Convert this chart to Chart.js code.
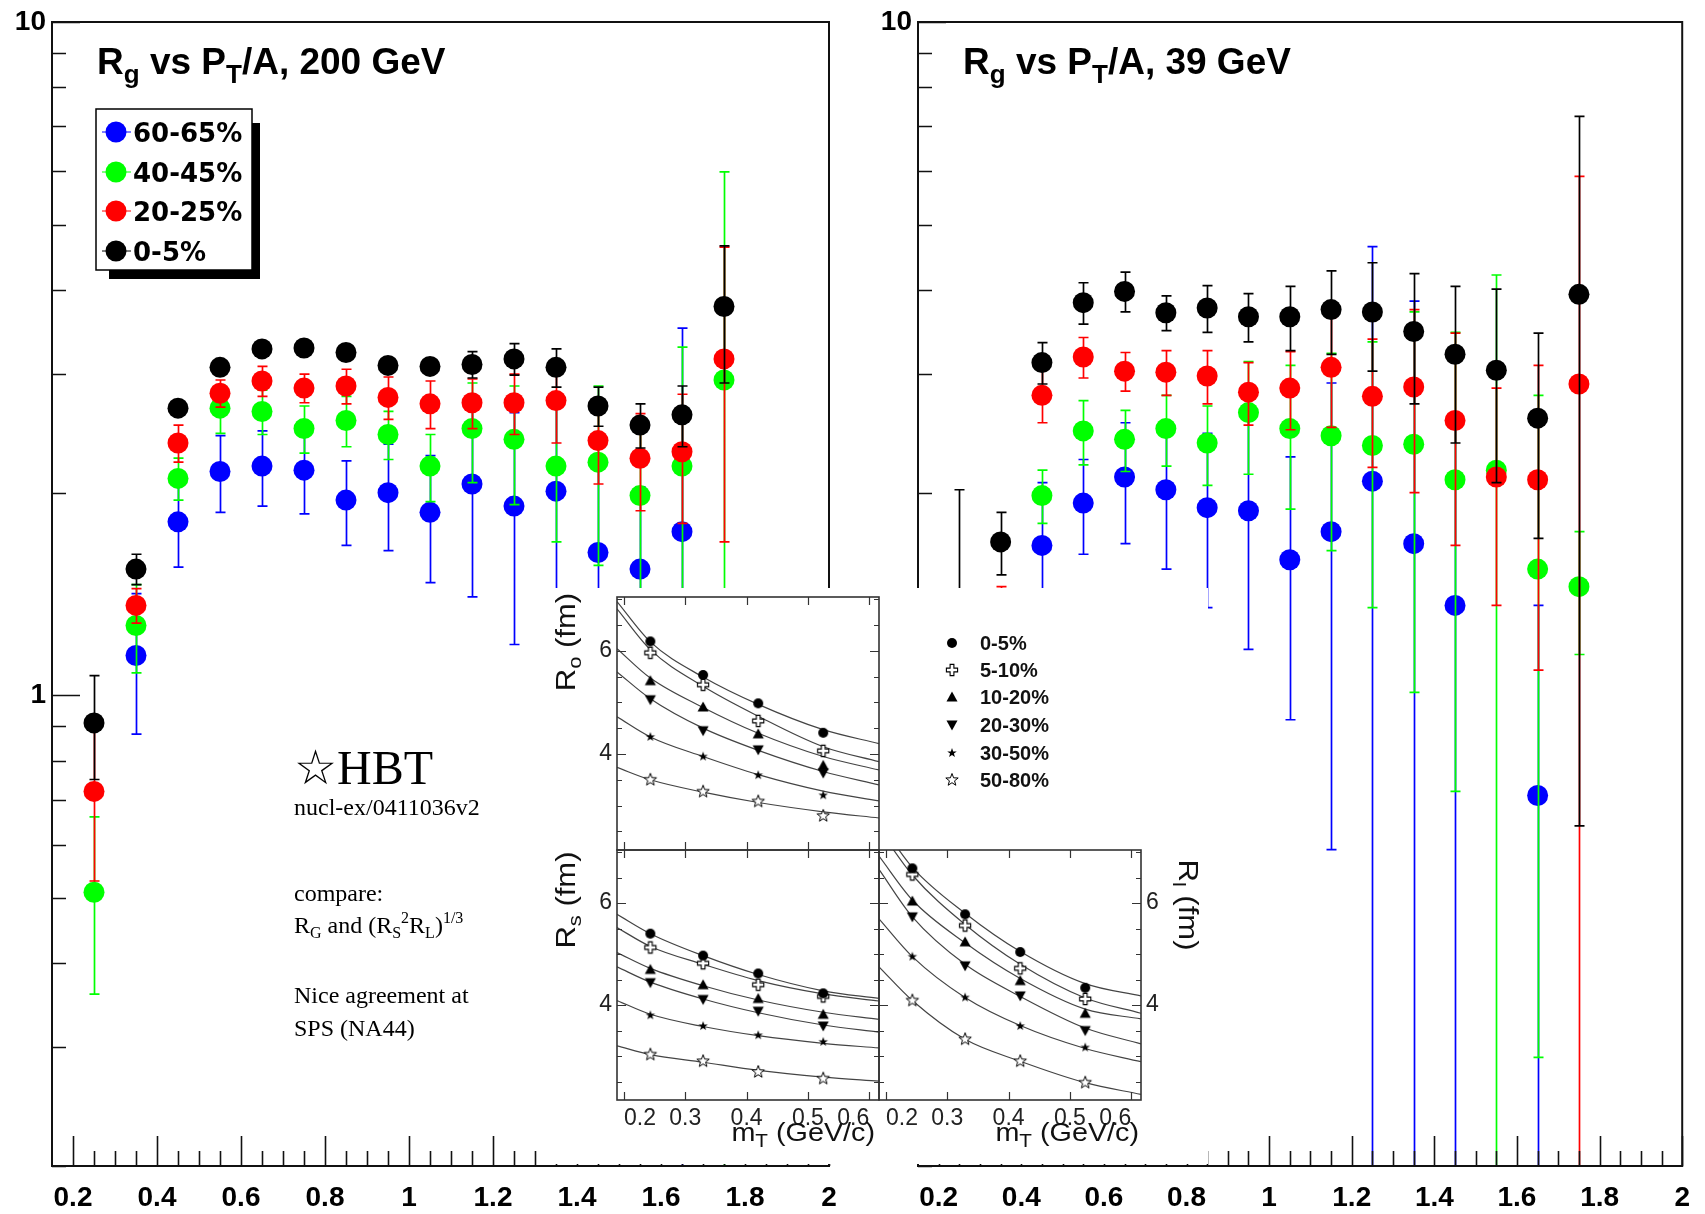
<!DOCTYPE html>
<html>
<head>
<meta charset="utf-8">
<title>Rg vs PT/A</title>
<script src="https://cdn.jsdelivr.net/npm/chart.js@4.4.1/dist/chart.umd.min.js"></script>
<style>
  body { margin: 0; background: #fff; }
  #page { position: relative; width: 1705px; height: 1214px; overflow: hidden; background: #fff; }
  #page canvas { position: absolute; top: 0; }
  #inset { position: absolute; left: 543px; top: 588px; width: 665px; height: 576px; background: #fff; }
</style>
</head>
<body>
<div id="page">
  <canvas id="c200" width="872" height="1214" style="left:0"></canvas>
  <canvas id="c39" width="833" height="1214" style="left:872px"></canvas>
  <div id="inset">
    <canvas id="insRo" width="665" height="576" style="left:0"></canvas>
    <canvas id="insRs" width="665" height="576" style="left:0"></canvas>
    <canvas id="insRl" width="665" height="576" style="left:0"></canvas>
  </div>
</div>
<script>
// ---- main panels: R_g vs pT/A ----
const xBins = [0.25, 0.35, 0.45, 0.55, 0.65, 0.75, 0.85, 0.95, 1.05, 1.15, 1.25, 1.35, 1.45, 1.55, 1.65, 1.75];
const xTicks = [0.2, 0.4, 0.6, 0.8, 1.0, 1.2, 1.4, 1.6, 1.8, 2.0];
const yLabels = [1, 10];
const yTickVals = [0.2, 0.3, 0.4, 0.5, 0.6, 0.7, 0.8, 0.9, 1, 2, 3, 4, 5, 6, 7, 8, 9, 10];
const centLabels = ['60-65%', '40-45%', '20-25%', '0-5%'];

// 200 GeV
const rg200_0_5   = [0.91, 1.54, 2.67, 3.07, 3.27, 3.28, 3.23, 3.09, 3.08, 3.10, 3.16, 3.07, 2.69, 2.52, 2.61, 3.78];
const err200_0_5  = [0.16, 0.08, 0.05, 0.06, 0.07, 0.07, 0.08, 0.08, 0.08, 0.14, 0.17, 0.20, 0.18, 0.19, 0.27, 0.87];
const rg200_20_25  = [0.72, 1.36, 2.37, 2.81, 2.93, 2.86, 2.88, 2.77, 2.71, 2.72, 2.72, 2.74, 2.39, 2.25, 2.30, 3.16];
const err200_20_25 = [0.19, 0.08, 0.15, 0.13, 0.15, 0.14, 0.17, 0.20, 0.22, 0.23, 0.28, 0.37, 0.33, 0.37, 0.50, 1.47];
const rg200_40_45  = [0.51, 1.27, 2.10, 2.67, 2.64, 2.49, 2.56, 2.44, 2.19, 2.49, 2.40, 2.19, 2.22, 1.98, 2.19, 2.94];
const err200_40_45 = [0.15, 0.19, 0.15, 0.22, 0.20, 0.20, 0.22, 0.20, 0.25, 0.42, 0.48, 0.50, 0.66, 0.60, 1.10, 3.05];
const rg200_60_65  = [null, 1.146, 1.81, 2.15, 2.19, 2.16, 1.95, 2.00, 1.87, 2.06, 1.91, 2.01, 1.63, 1.54, 1.75, null];
const err200_60_65 = [null, 0.27, 0.26, 0.28, 0.28, 0.30, 0.28, 0.36, 0.40, 0.66, 0.72, 0.70, 0.60, 0.50, 1.76, null];

// 39 GeV
const rg39_0_5   = [1.20, 1.69, 3.12, 3.83, 3.98, 3.70, 3.76, 3.65, 3.65, 3.74, 3.71, 3.47, 3.21, 3.04, 2.58, 3.94];
const err39_0_5  = [0.82, 0.18, 0.22, 0.27, 0.27, 0.22, 0.30, 0.30, 0.40, 0.53, 0.68, 0.76, 0.84, 0.97, 0.87, 3.30];
const rg39_20_25  = [null, 1.20, 2.79, 3.18, 3.03, 3.02, 2.98, 2.82, 2.86, 3.07, 2.78, 2.87, 2.56, 2.11, 2.09, 2.90];
const err39_20_25 = [null, 0.25, 0.25, 0.22, 0.20, 0.23, 0.27, 0.30, 0.38, 0.57, 0.60, 0.87, 0.89, 0.75, 1.00, 3.00];
const rg39_40_45  = [null, null, 1.98, 2.47, 2.40, 2.49, 2.37, 2.63, 2.49, 2.43, 2.35, 2.36, 2.09, 2.16, 1.54, 1.45];
const err39_40_45 = [null, null, 0.18, 0.27, 0.25, 0.30, 0.32, 0.50, 0.60, 0.79, 1.00, 1.35, 1.37, 2.05, 1.25, 0.30];
const rg39_60_65  = [null, null, 1.67, 1.93, 2.11, 2.02, 1.90, 1.88, 1.59, 1.75, 2.08, 1.68, 1.36, null, 0.71, null];
const err39_60_65 = [null, null, 0.40, 0.31, 0.43, 0.48, 0.55, 0.71, 0.67, 1.16, 2.56, 2.17, 1.20, null, 0.65, null];

// ---- inset: STAR HBT radii vs mT ----
const mT = [0.243, 0.329, 0.419, 0.525];
const fitX = [0.1886, 0.243, 0.329, 0.419, 0.525, 0.616];
const insetXTicks = [0.2, 0.3, 0.4, 0.5, 0.6];
const hbtLabels = ['0-5%', '5-10%', '10-20%', '20-30%', '30-50%', '50-80%'];
const roPts = [
  [6.18, 5.53, 4.98, 4.41], [5.96, 5.34, 4.64, 4.06], [5.42, 4.91, 4.39, 3.78],
  [5.05, 4.45, 4.08, 3.63], [4.33, 3.95, 3.59, 3.20], [3.50, 3.27, 3.08, 2.80]];
const roFit = [
  [6.95, 6.17, 5.49, 4.96, 4.47, 4.20], [6.81, 6.02, 5.31, 4.73, 4.14, 3.85],
  [6.04, 5.47, 4.90, 4.40, 3.95, 3.69], [5.59, 5.07, 4.50, 4.07, 3.66, 3.40],
  [4.72, 4.33, 3.95, 3.60, 3.28, 3.09], [3.74, 3.50, 3.26, 3.06, 2.88, 2.76]];
const rsPts = [
  [5.40, 4.97, 4.62, 4.23], [5.13, 4.82, 4.40, 4.17], [4.70, 4.40, 4.13, 3.82],
  [4.44, 4.11, 3.88, 3.59], [3.80, 3.59, 3.41, 3.28], [3.03, 2.90, 2.69, 2.56]];
const rsFit = [
  [5.78, 5.40, 4.97, 4.60, 4.28, 4.13], [5.52, 5.15, 4.80, 4.48, 4.22, 4.08],
  [5.03, 4.72, 4.38, 4.10, 3.86, 3.72], [4.75, 4.45, 4.12, 3.85, 3.61, 3.47],
  [4.09, 3.82, 3.58, 3.40, 3.25, 3.16], [3.20, 3.03, 2.88, 2.72, 2.59, 2.51]];
const rlPts = [
  [6.68, 5.78, 5.04, 4.34], [6.56, 5.56, 4.72, 4.12], [6.04, 5.24, 4.48, 3.84],
  [5.73, 4.77, 4.18, 3.50], [4.95, 4.15, 3.59, 3.17], [4.09, 3.33, 2.90, 2.48]];
const rlFit = [
  [7.60, 6.70, 5.80, 5.05, 4.42, 4.18], [7.45, 6.55, 5.58, 4.80, 4.14, 3.84],
  [6.92, 6.06, 5.22, 4.52, 3.92, 3.73], [6.66, 5.73, 4.80, 4.17, 3.55, 3.24],
  [5.69, 4.95, 4.15, 3.60, 3.15, 2.89], [4.75, 4.09, 3.33, 2.90, 2.48, 2.25]];

const BOLD = '"DejaVu Sans"';
const HELV = '"Liberation Sans"';
const fmtX = v => String(Math.round(v * 10) / 10);

function pts(y, e) {
  return xBins.map((x, i) => y[i] == null ? null : { x, y: y[i], e: e[i] }).filter(p => p);
}

function drawParts(ctx, x, y, parts, family, weight) {
  for (const [t, size, dy] of parts) {
    ctx.font = `${weight} ${size}px ${family}`;
    ctx.fillText(t, x, y + dy);
    x += ctx.measureText(t).width;
  }
  return x;
}
function partsWidth(ctx, parts, family, weight) {
  let w = 0;
  for (const [t, size] of parts) { ctx.font = `${weight} ${size}px ${family}`; w += ctx.measureText(t).width; }
  return w;
}

// error bars drawn just before each dataset's markers (ROOT TGraphErrors look)
const errorBars = {
  id: 'errorBars',
  beforeDatasetDraw(chart, args) {
    const ds = chart.data.datasets[args.index];
    const { ctx, chartArea: a, scales: { x, y } } = chart;
    ctx.save();
    ctx.beginPath();
    ctx.rect(a.left, a.top, a.right - a.left, a.bottom - a.top);
    ctx.clip();
    ctx.strokeStyle = ds.pointBackgroundColor;
    ctx.lineWidth = 1.7;
    ctx.beginPath();
    for (const p of ds.data) {
      const px = Math.round(x.getPixelForValue(p.x)) + 0.5;
      const hi = y.getPixelForValue(p.y + p.e);
      const lowOk = p.y - p.e > 0.2;
      const lo = lowOk ? y.getPixelForValue(p.y - p.e) : a.bottom + 4;
      ctx.moveTo(px, hi); ctx.lineTo(px, lo);
      ctx.moveTo(px - 5, hi); ctx.lineTo(px + 5, hi);
      if (lowOk) { ctx.moveTo(px - 5, lo); ctx.lineTo(px + 5, lo); }
    }
    ctx.stroke();
    ctx.restore();
  }
};

function mainOverlay(energy, isLeft) {
  return {
    id: 'mainOverlay',
    afterDatasetsDraw(chart) {
      const { ctx, chartArea: a, scales: { x, y } } = chart;
      ctx.save();
      ctx.strokeStyle = '#111';
      ctx.lineWidth = 1.6;
      ctx.beginPath();
      for (const v of yTickVals) {
        const py = Math.round(y.getPixelForValue(v)) + 0.5;
        const len = (v === 1 || v === 10) ? 28 : 14;
        ctx.moveTo(a.left, py); ctx.lineTo(a.left + len, py);
      }
      for (let k = 4; k <= 40; k++) {
        const px = Math.round(x.getPixelForValue(k * 0.05)) + 0.5;
        const len = k % 4 === 0 ? 30 : 15;
        ctx.moveTo(px, a.bottom); ctx.lineTo(px, a.bottom - len);
      }
      ctx.stroke();
      ctx.lineWidth = 2;
      ctx.strokeRect(a.left, a.top, a.right - a.left, a.bottom - a.top);
      ctx.restore();
    },
    afterDraw(chart) {
      const { ctx, chartArea: a } = chart;
      ctx.save();
      ctx.fillStyle = '#000';
      ctx.textBaseline = 'alphabetic';
      drawParts(ctx, a.left + 45, 74, [['R', 37, 0], ['g', 26, 9], [' vs P', 37, 0], ['T', 26, 9], ['/A, ' + energy, 37, 0]], HELV, 'bold');
      if (isLeft) {
        // legend box with shadow
        ctx.fillRect(109, 123, 151, 156);
        ctx.fillStyle = '#fff';
        ctx.fillRect(96, 109, 156, 161);
        ctx.strokeStyle = '#000';
        ctx.lineWidth = 1.5;
        ctx.strokeRect(96, 109, 156, 161);
        const cols = [colBlue, colGreen, colRed, colBlack];
        const rows = [132, 172, 211, 251];
        centLabels.forEach((lab, i) => {
          ctx.strokeStyle = cols[i];
          ctx.lineWidth = 1;
          ctx.beginPath(); ctx.moveTo(102, rows[i]); ctx.lineTo(131, rows[i]); ctx.stroke();
          ctx.fillStyle = cols[i];
          ctx.beginPath(); ctx.arc(116, rows[i], 10.5, 0, Math.PI * 2); ctx.fill();
          ctx.fillStyle = '#000';
          ctx.font = `bold 26px ${BOLD}`;
          ctx.fillText(lab, 133, rows[i] + 9.5);
        });
        // notes
        const serif = '"Liberation Serif", "DejaVu Serif", serif';
        ctx.fillStyle = '#000';
        ctx.font = `48px ${serif}`;
        ctx.fillText('\u2606HBT', 294, 784);
        ctx.font = `24px ${serif}`;
        ctx.fillText('nucl-ex/0411036v2', 294, 815);
        ctx.fillText('compare:', 294, 901);
        drawParts(ctx, 294, 933, [['R', 24, 0], ['G', 16, 5], [' and (R', 24, 0], ['S', 16, 5], ['2', 16, -10], ['R', 24, 0], ['L', 16, 5], [')', 24, 0], ['1/3', 16, -10]], serif, 'normal');
        ctx.font = `24px ${serif}`;
        ctx.fillText('Nice agreement at', 294, 1003);
        ctx.fillText('SPS (NA44)', 294, 1036);
      }
      ctx.restore();
    }
  };
}

const colBlue = '#0000ff', colGreen = '#00ff00', colRed = '#ff0000', colBlack = '#000000';

function mainPanel(id, yAxisWidth, padRight, energy, series, isLeft) {
  const datasets = series.map(s => ({
    label: s.label,
    data: pts(s.y, s.e),
    showLine: false,
    pointStyle: 'circle',
    pointRadius: 10.5,
    pointHoverRadius: 10.5,
    pointBorderWidth: 0,
    pointBackgroundColor: s.color,
    backgroundColor: s.color
  }));
  const tickFont = { family: 'Liberation Sans', weight: 'bold', size: 28 };
  return new Chart(document.getElementById(id), {
    type: 'scatter',
    data: { datasets },
    options: {
      responsive: false,
      animation: false,
      devicePixelRatio: 1,
      events: [],
      layout: { padding: { left: 0, right: padRight, top: 22, bottom: 0 } },
      plugins: { legend: { display: false }, tooltip: { enabled: false } },
      scales: {
        x: {
          type: 'linear', min: 0.15, max: 2.0,
          afterFit: s => { s.height = 48; },
          afterBuildTicks: s => { s.ticks = xTicks.map(v => ({ value: v })); },
          grid: { display: false, drawTicks: false },
          border: { display: false },
          ticks: { autoSkip: false, maxRotation: 0, padding: 15, color: '#000', font: tickFont, callback: v => fmtX(v) }
        },
        y: {
          type: 'logarithmic', min: 0.2, max: 10,
          afterFit: s => { s.width = yAxisWidth; s.paddingTop = 0; s.paddingBottom = 0; },
          afterBuildTicks: s => { s.ticks = yLabels.map(v => ({ value: v })); },
          grid: { display: false, drawTicks: false },
          border: { display: false },
          ticks: { autoSkip: false, padding: 6, color: '#000', font: tickFont, callback: v => String(v) }
        }
      }
    },
    plugins: [errorBars, mainOverlay(energy, isLeft)]
  });
}

// first dataset is drawn on top
mainPanel('c200', 52, 43, '200 GeV', [
  { label: '0-5%', y: rg200_0_5, e: err200_0_5, color: colBlack },
  { label: '20-25%', y: rg200_20_25, e: err200_20_25, color: colRed },
  { label: '40-45%', y: rg200_40_45, e: err200_40_45, color: colGreen },
  { label: '60-65%', y: rg200_60_65, e: err200_60_65, color: colBlue }
], true);
mainPanel('c39', 46, 10, '39 GeV', [
  { label: '0-5%', y: rg39_0_5, e: err39_0_5, color: colBlack },
  { label: '20-25%', y: rg39_20_25, e: err39_20_25, color: colRed },
  { label: '40-45%', y: rg39_40_45, e: err39_40_45, color: colGreen },
  { label: '60-65%', y: rg39_60_65, e: err39_60_65, color: colBlue }
], false);

// ---- inset markers ----
function mk(fn) {
  const c = document.createElement('canvas');
  c.width = 16; c.height = 16;
  const g = c.getContext('2d');
  g.translate(8, 8);
  g.fillStyle = '#000'; g.strokeStyle = '#000';
  fn(g);
  return c;
}
function starPath(g, R, r) {
  g.beginPath();
  for (let i = 0; i < 10; i++) {
    const ang = -Math.PI / 2 + i * Math.PI / 5;
    const rr = i % 2 ? r : R;
    g.lineTo(rr * Math.cos(ang), rr * Math.sin(ang));
  }
  g.closePath();
}
const markers = [
  mk(g => { g.beginPath(); g.arc(0, 0, 5, 0, Math.PI * 2); g.fill(); }),
  mk(g => {
    const a = 1.9, b = 5.6;
    g.beginPath();
    [[-a, -b], [a, -b], [a, -a], [b, -a], [b, a], [a, a], [a, b], [-a, b], [-a, a], [-b, a], [-b, -a], [-a, -a]].forEach(p => g.lineTo(p[0], p[1]));
    g.closePath(); g.fillStyle = '#fff'; g.fill(); g.lineWidth = 1.1; g.stroke();
  }),
  mk(g => { g.beginPath(); g.moveTo(0, -5.5); g.lineTo(5.5, 4.5); g.lineTo(-5.5, 4.5); g.closePath(); g.fill(); }),
  mk(g => { g.beginPath(); g.moveTo(0, 5.5); g.lineTo(5.5, -4.5); g.lineTo(-5.5, -4.5); g.closePath(); g.fill(); }),
  mk(g => { starPath(g, 5, 2); g.fill(); }),
  mk(g => { starPath(g, 6.5, 2.7); g.fillStyle = '#fff'; g.fill(); g.lineWidth = 1; g.stroke(); })
];

const insetAxes = {
  id: 'insetAxes',
  afterDatasetsDraw(chart) {
    const { ctx, chartArea: a, scales: { x, y } } = chart;
    ctx.save();
    ctx.strokeStyle = '#333';
    ctx.lineWidth = 1.2;
    ctx.beginPath();
    for (const v of insetXTicks) {
      const px = Math.round(x.getPixelForValue(v)) + 0.5;
      ctx.moveTo(px, a.bottom); ctx.lineTo(px, a.bottom - 8);
      ctx.moveTo(px, a.top); ctx.lineTo(px, a.top + 8);
    }
    for (let k = 5; k <= 14; k++) {
      const v = k * 0.5;
      if (v < y.min || v > y.max) continue;
      const py = Math.round(y.getPixelForValue(v)) + 0.5;
      const len = v % 2 === 0 ? 9 : 5;
      ctx.moveTo(a.left, py); ctx.lineTo(a.left + len, py);
      ctx.moveTo(a.right, py); ctx.lineTo(a.right - len, py);
    }
    ctx.stroke();
    ctx.lineWidth = 1.6;
    ctx.strokeRect(a.left, a.top, a.right - a.left, a.bottom - a.top);
    ctx.restore();
  }
};

function rotLabel(ctx, cx, cy, angle, sub) {
  const parts = [['R', 27, 0], [sub, 19, 6], [' (fm)', 27, 0]];
  ctx.save();
  ctx.translate(cx, cy);
  ctx.rotate(angle);
  ctx.scale(1.15, 1);
  ctx.fillStyle = '#111';
  const w = partsWidth(ctx, parts, HELV, 'normal');
  drawParts(ctx, -w / 2, 9, parts, HELV, 'normal');
  ctx.restore();
}
function mtLabel(ctx, right, base) {
  const parts = [['m', 25, 0], ['T', 18, 6], [' (GeV/c)', 25, 0]];
  ctx.save();
  ctx.translate(right, base);
  ctx.scale(1.15, 1);
  ctx.fillStyle = '#111';
  const w = partsWidth(ctx, parts, HELV, 'normal');
  drawParts(ctx, -w, 0, parts, HELV, 'normal');
  ctx.restore();
}

function insetPanel(id, pad, yPos, yWidth, showX, ptsRows, fitRows, extra) {
  const datasets = [];
  ptsRows.forEach((row, i) => datasets.push({
    data: mT.map((x, j) => ({ x, y: row[j] })),
    showLine: false, pointStyle: markers[i], pointRadius: 6, pointHoverRadius: 6
  }));
  fitRows.forEach(row => datasets.push({
    data: fitX.map((x, j) => ({ x, y: row[j] })),
    showLine: true, pointRadius: 0, borderColor: '#444', borderWidth: 1.2,
    cubicInterpolationMode: 'monotone', tension: 0.4, fill: false
  }));
  const tickFont = { family: 'Liberation Sans', size: 23 };
  return new Chart(document.getElementById(id), {
    type: 'scatter',
    data: { datasets },
    options: {
      responsive: false, animation: false, devicePixelRatio: 1, events: [],
      layout: { padding: pad },
      plugins: { legend: { display: false }, tooltip: { enabled: false } },
      scales: {
        x: {
          type: 'linear', min: 0.1886, max: 0.616, display: showX,
          afterFit: s => { s.height = showX ? 64 : 0; s.paddingLeft = 0; s.paddingRight = 0; },
          afterBuildTicks: s => { s.ticks = insetXTicks.map(v => ({ value: v })); },
          grid: { display: false, drawTicks: false }, border: { display: false },
          ticks: { align: 'inner', autoSkip: false, maxRotation: 0, padding: 5, color: '#222', font: tickFont, callback: v => fmtX(v) }
        },
        y: {
          type: 'linear', min: 2.14, max: 7.04, position: yPos,
          afterFit: s => { s.width = yWidth; s.paddingTop = 0; s.paddingBottom = 0; },
          afterBuildTicks: s => { s.ticks = [{ value: 4 }, { value: 6 }]; },
          grid: { display: false, drawTicks: false }, border: { display: false },
          ticks: { autoSkip: false, padding: 5, color: '#222', font: tickFont }
        }
      }
    },
    plugins: [insetAxes, extra]
  });
}

insetPanel('insRo', { left: 0, top: 9, right: 329, bottom: 314 }, 'left', 74, false, roPts, roFit, {
  id: 'roExtra',
  afterDraw(chart) {
    const ctx = chart.ctx;
    rotLabel(ctx, 23, 54, -Math.PI / 2, 'o');
    const rows = [55, 82, 109, 137, 165, 192];
    ctx.save();
    hbtLabels.forEach((lab, i) => {
      ctx.drawImage(markers[i], 409 - 8, rows[i] - 8);
      ctx.fillStyle = '#111';
      ctx.font = 'bold 20px "Liberation Sans"';
      ctx.fillText(lab, 437, rows[i] + 7);
    });
    ctx.restore();
  }
});
insetPanel('insRs', { left: 0, top: 262, right: 329, bottom: 0 }, 'left', 74, true, rsPts, rsFit, {
  id: 'rsExtra',
  afterDraw(chart) {
    rotLabel(chart.ctx, 23, 312, -Math.PI / 2, 's');
    mtLabel(chart.ctx, chart.chartArea.right - 4, 553);
  }
});
insetPanel('insRl', { left: 336, top: 262, right: 0, bottom: 0 }, 'right', 67, true, rlPts, rlFit, {
  id: 'rlExtra',
  afterDraw(chart) {
    rotLabel(chart.ctx, 645, 317, Math.PI / 2, 'l');
    mtLabel(chart.ctx, chart.chartArea.right - 2, 553);
  }
});
</script>
</body>
</html>
